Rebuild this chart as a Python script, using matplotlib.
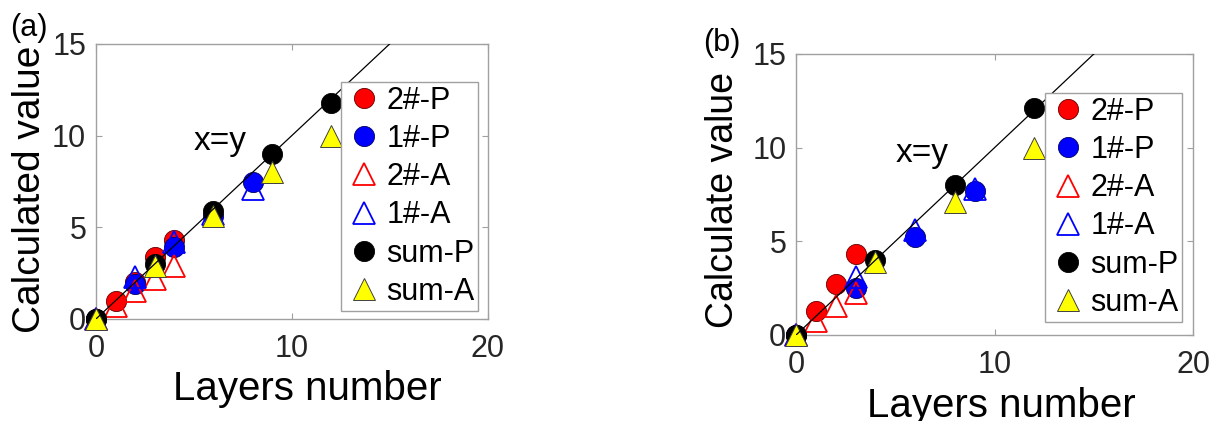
import matplotlib.pyplot as plt
from matplotlib.lines import Line2D

plt.rcParams['font.family'] = ['Liberation Sans', 'DejaVu Sans']

# panel (a)
a_x_2p = [0, 1, 2, 3, 4]
a_y_2p = [0, 1.0, 2.0, 3.4, 4.3]
a_x_1p = [0, 2, 4, 6, 8]
a_y_1p = [0, 1.9, 3.9, 5.6, 7.45]
a_x_2a = [0, 1, 2, 3, 4]
a_y_2a = [0, 0.7, 1.5, 2.2, 2.9]
a_x_1a = [0, 2, 4, 6, 8]
a_y_1a = [0, 2.3, 4.2, 5.7, 7.1]
a_x_sp = [0, 3, 6, 9, 12]
a_y_sp = [0, 3.0, 5.9, 9.0, 11.8]
a_x_sa = [0, 3, 6, 9, 12]
a_y_sa = [0, 2.9, 5.6, 8.0, 10.0]

# panel (b)
b_x_2p = [0, 1, 2, 3]
b_y_2p = [0, 1.3, 2.7, 4.3]
b_x_1p = [0, 3, 6, 9]
b_y_1p = [0, 2.5, 5.25, 7.7]
b_x_2a = [0, 1, 2, 3]
b_y_2a = [0, 0.75, 1.55, 2.25]
b_x_1a = [0, 3, 6, 9]
b_y_1a = [0, 3.1, 5.6, 7.8]
b_x_sp = [0, 4, 8, 12]
b_y_sp = [0, 4.0, 8.0, 12.1]
b_x_sa = [0, 4, 8, 12]
b_y_sa = [0, 3.9, 7.1, 10.0]

labels = ['2#-P', '1#-P', '2#-A', '1#-A', 'sum-P', 'sum-A']
line_xy = [0, 20]

spine_col = '#a0a0a0'
text_col = '#262626'

# marker styles for the six series, in legend order
styles = [
    dict(marker='o', ms=14.5, mfc='red', mec='#600000', mew=0.6),
    dict(marker='o', ms=14.5, mfc='blue', mec='#000060', mew=0.6),
    dict(marker='^', ms=15.5, mfc='none', mec='red', mew=1.3),
    dict(marker='^', ms=15.5, mfc='none', mec='blue', mew=1.3),
    dict(marker='o', ms=14.5, mfc='black', mec='black', mew=0.6),
    dict(marker='^', ms=15.5, mfc='yellow', mec='#404040', mew=0.7),
]


def panel(ax, data, ylabel, ylab_size, ylab_pos, xlab_pos, tag, tag_pos, leg_anchor):
    for (x, y), st in zip(data, styles):
        ax.plot(x, y, ls='none', clip_on=False, zorder=3, **st)
    ax.plot(line_xy, line_xy, color='black', lw=0.9, zorder=4)
    ax.text(5, 9.7, 'x=y', fontsize=24, ha='left', va='center')

    ax.set_xlim(0, 20)
    ax.set_ylim(0, 15)
    ax.set_xticks([0, 10, 20])
    ax.set_yticks([0, 5, 10, 15])
    for s in ax.spines.values():
        s.set_color(spine_col)
        s.set_linewidth(1.0)
    ax.tick_params(direction='in', length=4, width=0.8, color=spine_col,
                   top=True, right=True, labelsize=22, labelcolor=text_col)
    ax.tick_params(axis='x', pad=11)
    ax.tick_params(axis='y', pad=7)

    ax.set_xlabel('Layers number', fontsize=29, va='baseline')
    ax.xaxis.set_label_coords(*xlab_pos)
    ax.set_ylabel(ylabel, fontsize=ylab_size, va='center')
    ax.yaxis.set_label_coords(*ylab_pos)

    handles = [Line2D([], [], ls='none', **st) for st in styles]
    leg = ax.legend(handles, labels, loc='upper left', bbox_to_anchor=leg_anchor,
                    fontsize=22, frameon=True, fancybox=False, framealpha=1,
                    borderpad=0.12, handlelength=1.27, handletextpad=0.1,
                    labelspacing=0.27, borderaxespad=0, numpoints=1)
    leg.get_frame().set_edgecolor(spine_col)
    leg.get_frame().set_linewidth(1.0)
    leg.set_zorder(5)

    ax.figure.text(tag_pos[0], tag_pos[1], tag, fontsize=22, ha='center', va='center')


fig = plt.figure(figsize=(12.1, 4.21), dpi=100)
ax1 = fig.add_axes([0.0793, 0.2423, 0.3236, 0.6532])
ax2 = fig.add_axes([0.6579, 0.2043, 0.3281, 0.6675])

# label coords: x label given at its baseline, in axes fractions
panel(ax1,
      [(a_x_2p, a_y_2p), (a_x_1p, a_y_1p), (a_x_2a, a_y_2a),
       (a_x_1a, a_y_1a), (a_x_sp, a_y_sp), (a_x_sa, a_y_sa)],
      'Calculated value', 28, (-0.168, 0.47), (0.54, -0.295),
      '(a)', (29 / 1210, 1 - 28 / 421), (0.625, 0.862))
panel(ax2,
      [(b_x_2p, b_y_2p), (b_x_1p, b_y_1p), (b_x_2a, b_y_2a),
       (b_x_1a, b_y_1a), (b_x_sp, b_y_sp), (b_x_sa, b_y_sa)],
      'Calculate value', 27, (-0.185, 0.48), (0.516, -0.293),
      '(b)', (722 / 1210, 1 - 43 / 421), (0.627, 0.861))

fig.savefig('out.png', dpi=100)
